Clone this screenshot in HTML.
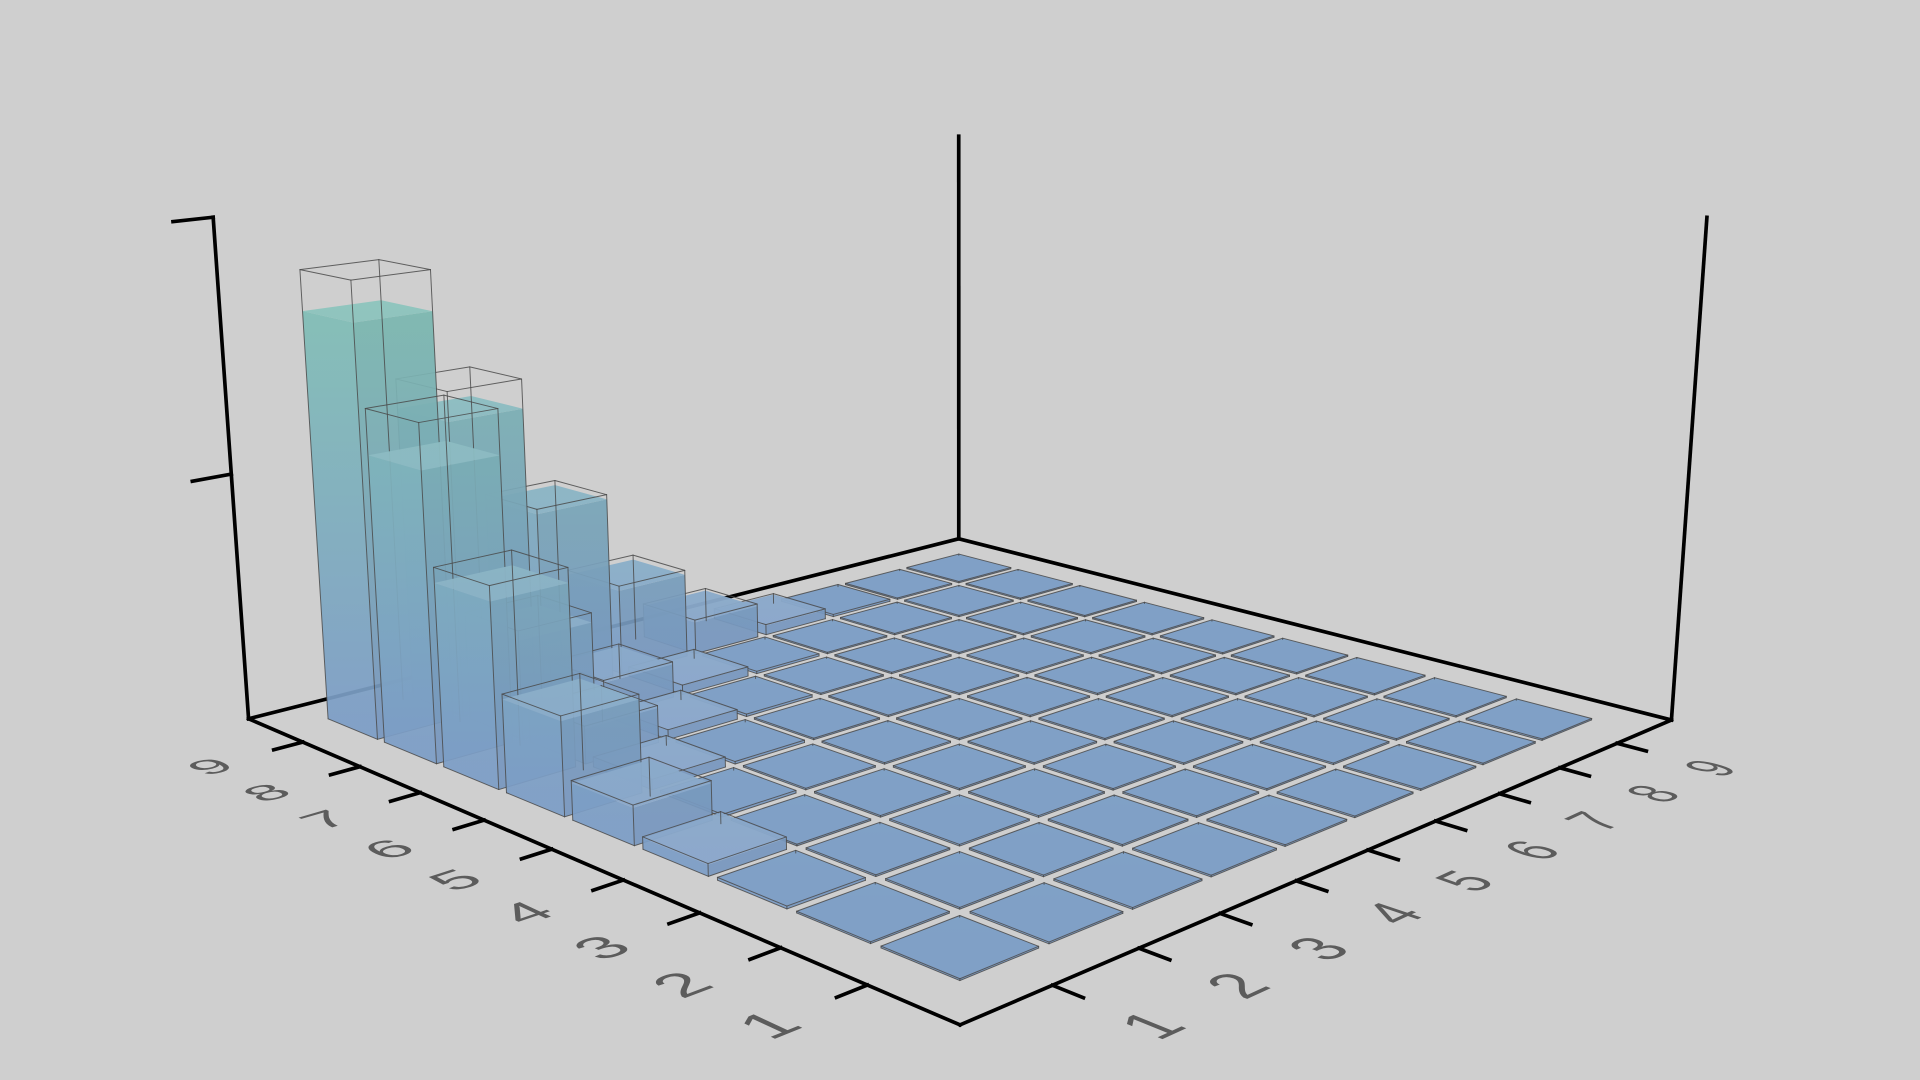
<!DOCTYPE html>
<html><head><meta charset="utf-8"><title>3D bar chart</title>
<style>
html,body{margin:0;padding:0;background:#cfcfcf;width:1920px;height:1080px;overflow:hidden}
svg{display:block}
text{font-family:"Liberation Sans",sans-serif}
</style></head>
<body>
<svg id="chart" width="1920" height="1080" viewBox="0 0 1568 882" xmlns="http://www.w3.org/2000/svg">
<defs id="defs"></defs>
<rect x="0" y="0" width="1568" height="882" fill="#cfcfcf"/>
<g id="axes"></g>
<g id="bars"></g>
<g id="labels"></g>
</svg>
<script>
// ---- data ----
const uCategories = ["1","2","3","4","5","6","7","8","9"];
const vCategories = ["1","2","3","4","5","6","7","8","9"];
const zTicks = [0.5, 1];
const zMax = 1;
// rows: u = 1..9, columns: v = 1..9  (outline / glass height)
const heightsU1 = [0.001,0,0,0,0,0,0,0,0];
const heightsU2 = [0.002,0.001,0,0,0,0,0,0,0];
const heightsU3 = [0.005,0.001,0,0,0,0,0,0,0];
const heightsU4 = [0.023,0.002,0.001,0,0,0,0,0,0];
const heightsU5 = [0.075,0.005,0.002,0.001,0,0,0,0,0];
const heightsU6 = [0.19,0.02,0.005,0.002,0.001,0,0,0,0];
const heightsU7 = [0.39,0.075,0.02,0.005,0.002,0.001,0,0,0];
const heightsU8 = [0.66,0.22,0.075,0.02,0.005,0.002,0.001,0,0];
const heightsU9 = [0.9,0.66,0.39,0.19,0.075,0.023,0.005,0.002,0.001];
// filled (liquid) height
const fillsU1 = [0.001,0,0,0,0,0,0,0,0];
const fillsU2 = [0.002,0.001,0,0,0,0,0,0,0];
const fillsU3 = [0.005,0.001,0,0,0,0,0,0,0];
const fillsU4 = [0.021,0.002,0.001,0,0,0,0,0,0];
const fillsU5 = [0.07,0.005,0.002,0.001,0,0,0,0,0];
const fillsU6 = [0.18,0.019,0.005,0.002,0.001,0,0,0,0];
const fillsU7 = [0.36,0.07,0.019,0.005,0.002,0.001,0,0,0];
const fillsU8 = [0.57,0.2,0.07,0.019,0.005,0.002,0.001,0,0];
const fillsU9 = [0.82,0.6,0.38,0.18,0.07,0.021,0.005,0.002,0.001];
const heights = [heightsU1,heightsU2,heightsU3,heightsU4,heightsU5,heightsU6,heightsU7,heightsU8,heightsU9];
const fills = [fillsU1,fillsU2,fillsU3,fillsU4,fillsU5,fillsU6,fillsU7,fillsU8,fillsU9];

// ---- projection ----
const NS = "http://www.w3.org/2000/svg";
function solve(A, b) {
  const n = b.length; const M = A.map((r, i) => r.concat([b[i]]));
  for (let i = 0; i < n; i++) {
    let p = i; for (let k = i + 1; k < n; k++) if (Math.abs(M[k][i]) > Math.abs(M[p][i])) p = k;
    [M[i], M[p]] = [M[p], M[i]];
    for (let k = i + 1; k < n; k++) { const f = M[k][i] / M[i][i]; for (let j = i; j <= n; j++) M[k][j] -= f * M[i][j]; }
  }
  const x = new Array(n).fill(0);
  for (let i = n - 1; i >= 0; i--) { let s = M[i][n]; for (let j = i + 1; j < n; j++) s -= M[i][j] * x[j]; x[i] = s / M[i][i]; }
  return x;
}
const floorSrc = [[0,0],[10,0],[0,10],[10,10]];
const floorDst = [[784,837],[203,587],[1365,588],[783,440]];
const A8 = [], b8 = [];
for (let i = 0; i < 4; i++) {
  const [x, y] = floorSrc[i], [X, Y] = floorDst[i];
  A8.push([x, y, 1, 0, 0, 0, -X * x, -X * y]); b8.push(X);
  A8.push([0, 0, 0, x, y, 1, -Y * x, -Y * y]); b8.push(Y);
}
const h = solve(A8, b8);
function hom(u, v) { return [h[0]*u + h[1]*v + h[2], h[3]*u + h[4]*v + h[5], h[6]*u + h[7]*v + 1]; }
const topSrc = [[10,0],[0,10],[10,10]];
const topDst = [[174,177],[1394,177],[783,112]];
const rows = [], rhs = [];
topSrc.forEach((s, i) => {
  const [X, Y, W] = hom(s[0], s[1]); const [x, y] = topDst[i];
  rows.push([1, 0, -x]); rhs.push(x * W - X);
  rows.push([0, 1, -y]); rhs.push(y * W - Y);
});
const AtA = [[0,0,0],[0,0,0],[0,0,0]], Atb = [0,0,0];
rows.forEach((r, i) => { for (let a = 0; a < 3; a++) { Atb[a] += r[a] * rhs[i]; for (let c = 0; c < 3; c++) AtA[a][c] += r[a] * r[c]; } });
const zc = solve(AtA, Atb);
function P(u, v, z) {
  const zz = z / zMax;
  const [X, Y, W] = hom(u, v);
  const w = W + zc[2] * zz;
  return [(X + zc[0] * zz) / w, (Y + zc[1] * zz) / w];
}
function pts(list) { return list.map(p => p[0].toFixed(2) + "," + p[1].toFixed(2)).join(" "); }

// ---- axes ----
const axes = document.getElementById("axes");
function line(parent, a, b, w, color, name) {
  const l = document.createElementNS(NS, "line");
  l.setAttribute("x1", a[0]); l.setAttribute("y1", a[1]); l.setAttribute("x2", b[0]); l.setAttribute("y2", b[1]);
  l.setAttribute("stroke", color); l.setAttribute("stroke-width", w); l.setAttribute("stroke-linecap", "square");
  
  
  parent.appendChild(l); return l;
}
line(axes, P(10,0,0), P(0,0,0), 3, "#000", "x-axis-line");
line(axes, P(0,0,0), P(0,10,0), 3, "#000", "y-axis-line");
line(axes, P(10,0,0), P(10,10,0), 3, "#000", "back-left-edge");
line(axes, P(10,10,0), P(0,10,0), 3, "#000", "back-right-edge");
line(axes, P(10,0,0), P(10,0,zMax), 3, "#000", "z-axis-line");
line(axes, P(10,10,0), P(10,10,zMax), 3, "#000", "back-vertical-edge");
line(axes, P(0,10,0), P(0,10,zMax), 3, "#000", "right-vertical-edge");
zTicks.forEach(t => { line(axes, P(10,0,t), P(10,-0.42,t), 3, "#000", "z-axis-tick"); });
uCategories.forEach((c, i) => { const u = i + 1; line(axes, P(u,0,0), P(u,-0.32,0), 3, "#000", "x-axis-tick"); });
vCategories.forEach((c, i) => { const v = i + 1; line(axes, P(0,v,0), P(-0.32,v,0), 3, "#000", "y-axis-tick"); });

// ---- labels lying on floor ----
const labels = document.getElementById("labels");
function floorLabel(u0, v0, txt, name) {
  const k = 0.031, d = 0.01;
  const p0 = P(u0, v0, 0), pv = P(u0, v0 + d, 0), pu = P(u0 + d, v0, 0);
  const Jv = [(pv[0]-p0[0])/d, (pv[1]-p0[1])/d], Ju = [(pu[0]-p0[0])/d, (pu[1]-p0[1])/d];
  const t = document.createElementNS(NS, "text");
  t.setAttribute("transform", `matrix(${Jv[0]*k},${Jv[1]*k},${-Ju[0]*k},${-Ju[1]*k},${p0[0]},${p0[1]})`);
  t.setAttribute("font-size", "20"); t.setAttribute("text-anchor", "middle"); t.setAttribute("dominant-baseline", "central");
  t.setAttribute("fill", "#5c5c5c");
  t.textContent = txt;
  
  
  labels.appendChild(t);
}
uCategories.forEach((c, i) => floorLabel(i + 1, -1.0, c, "x-axis-label"));
vCategories.forEach((c, i) => floorLabel(-1.0, i + 1, c, "y-axis-label"));

// ---- bars ----
const defs = document.getElementById("defs");
const barsG = document.getElementById("bars");
const half = 0.44;
const order = [];
for (let i = 0; i < 9; i++) for (let j = 0; j < 9; j++) order.push([i, j]);
order.sort((a, b) => (b[0] + b[1]) - (a[0] + a[1]));
function face(g, list, fill, opacity, name) {
  const p = document.createElementNS(NS, "polygon");
  p.setAttribute("points", pts(list)); p.setAttribute("fill", fill); p.setAttribute("fill-opacity", opacity);
  
  
  g.appendChild(p);
}
order.forEach(([i, j]) => {
  const u = i + 1, v = j + 1;
  const hv = Math.max(heights[i][j], 0.003);
  const fv = Math.max(Math.min(fills[i][j], hv), 0.003);
  const um = u - half, uM = u + half, vm = v - half, vM = v + half;
  // per-bar gradient in world height
  const gid = "grad-" + u + "-" + v;
  const base = P(u, v, 0), top = P(u, v, 0.9);
  const lg = document.createElementNS(NS, "linearGradient");
  lg.setAttribute("id", gid); lg.setAttribute("gradientUnits", "userSpaceOnUse");
  lg.setAttribute("x1", 0); lg.setAttribute("y1", base[1]); lg.setAttribute("x2", 0); lg.setAttribute("y2", top[1]);
  const s0 = document.createElementNS(NS, "stop"); s0.setAttribute("offset", "0"); s0.setAttribute("stop-color", "#7c9dc6");
  const s1 = document.createElementNS(NS, "stop"); s1.setAttribute("offset", "1"); s1.setAttribute("stop-color", "#80c1b4");
  lg.appendChild(s0); lg.appendChild(s1); defs.appendChild(lg);
  const fillRef = "url(#" + gid + ")";
  const g = document.createElementNS(NS, "g");
  
  
  barsG.appendChild(g);
  face(g, [P(uM,vm,0),P(um,vm,0),P(um,vm,fv),P(uM,vm,fv)], fillRef, 0.92, "bar-left-face");
  face(g, [P(um,vm,0),P(um,vM,0),P(um,vM,fv),P(um,vm,fv)], fillRef, 0.92, "bar-right-face");
  face(g, [P(um,vm,0),P(um,vM,0),P(um,vM,fv),P(um,vm,fv)], "#000", 0.03, "bar-right-shade");
  face(g, [P(um,vm,fv),P(uM,vm,fv),P(uM,vM,fv),P(um,vM,fv)], fillRef, 0.95, "bar-top-face");
  if (fv > 0.01) face(g, [P(um,vm,fv),P(uM,vm,fv),P(uM,vM,fv),P(um,vM,fv)], "#ffffff", 0.1, "bar-top-highlight");
  const c = (a, b, z) => P(a, b, z);
  const edges = [
    [c(um,vm,0),c(um,vM,0)],[c(um,vm,0),c(uM,vm,0)],
    [c(um,vm,0),c(um,vm,hv)],[c(um,vM,0),c(um,vM,hv)],[c(uM,vm,0),c(uM,vm,hv)],[c(uM,vM,0),c(uM,vM,hv)],
    [c(um,vm,hv),c(um,vM,hv)],[c(um,vM,hv),c(uM,vM,hv)],[c(uM,vM,hv),c(uM,vm,hv)],[c(uM,vm,hv),c(um,vm,hv)]
  ];
  edges.forEach(e => {
    const l = line(g, e[0], e[1], 0.8, "#4a4a4a", "bar-outline-edge");
    l.setAttribute("stroke-opacity", "0.85"); l.setAttribute("stroke-linecap", "round");
  });
});
</script>
</body></html>
